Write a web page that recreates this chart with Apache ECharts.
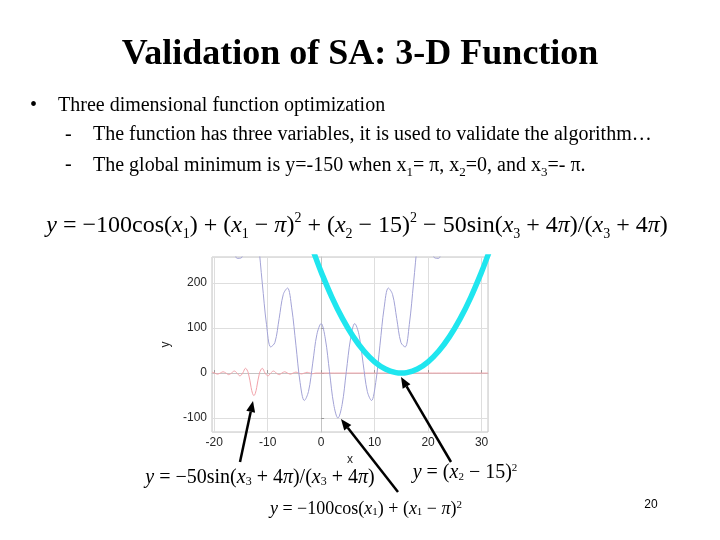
<!DOCTYPE html>
<html><head><meta charset="utf-8">
<script src="https://cdn.jsdelivr.net/npm/echarts@6/dist/echarts.min.js"></script>
<style>html,body{margin:0;padding:0;background:#fff}#c{width:720px;height:540px}</style>
</head><body><div id="c"></div>
<script>
// Blue curve: y = -100cos(x1) + (x1 - pi)^2
const blueX = [-20.42,-19.63,-18.85,-18.06,-17.28,-16.49,-15.71,-14.92,-14.14,-13.35,-12.57,-11.78,-11.00,-10.21,-9.42,-8.64,-7.85,-7.07,-6.28,-5.50,-4.71,-3.93,-3.14,-2.36,-1.57,-0.79,0,0.79,1.57,2.36,3.14,3.93,4.71,5.50,6.28,7.07,7.85,8.64,9.42,10.21,11.00,11.78,12.57,13.35,14.14,14.92,15.71,16.49,17.28,18.06,18.85,19.63,20.42,21.21,21.99,22.78,23.56,24.35];
const blueY = [555,590,584,520,417,315,255,256,299,343,347,293,200,108,58,68,121,175,189,145,62,-21,-61,-41,22,86,110,76,3,-70,-100,-70,3,76,110,86,22,-41,-61,-21,62,145,189,175,121,68,58,108,200,293,347,343,299,256,255,315,417,520];
// Red curve: y = -50 sin(x3 + 4pi)/(x3 + 4pi)
const redX = [-20.4,-19.90,-19.37,-18.85,-18.33,-17.80,-17.28,-16.76,-16.23,-15.71,-15.18,-14.66,-14.14,-13.61,-13.09,-12.83,-12.57,-12.30,-12.04,-11.52,-11.00,-10.47,-9.95,-9.42,-8.90,-8.38,-7.85,-7.33,-6.81,-6.28,-5.76,-5.24,-4.71,-4.19,-3.67,-3.14,-2.62,-2.09,-1.57,-1.05,0,10,20,31.2];
const redY = [2.1,0,-2.4,0,2.9,0,-3.5,0,4.5,0,-6.4,0,10.6,0,-31.8,-45,-50,-45,-31.8,0,10.6,0,-6.4,0,4.5,0,-3.5,0,2.9,0,-2.4,0,2.1,0,-1.9,0,1.7,0,-1.5,0,0,0,0,0];
// Cyan curve: y = (x2 - 15)^2
const cyanX = [-2,-1,0,2,4,6,8,10,12,14,15,16,18,20,22,24,26,28,30,31,32];
const cyanY = [289,256,225,169,121,81,49,25,9,1,0,1,9,25,49,81,121,169,225,256,289];

const pair = (xs, ys) => xs.map((x, i) => [x, ys[i]]);
const serif = 'Liberation Serif';
const mathRich = {
  i: {fontStyle: 'italic', fontFamily: serif, fontSize: 24, verticalAlign: 'middle'},
  n: {fontFamily: serif, fontSize: 24, verticalAlign: 'middle'},
  s: {fontStyle: 'normal', fontFamily: serif, fontSize: 14, verticalAlign: 'bottom'},
  p: {fontFamily: serif, fontSize: 14, verticalAlign: 'top'}
};
function scaledRich(f) {
  const r = {};
  for (const k in mathRich) { r[k] = Object.assign({}, mathRich[k], {fontSize: Math.round(mathRich[k].fontSize * f)}); }
  return r;
}

const chart = echarts.init(document.getElementById('c'), null, {renderer: 'canvas'});
const axisFont = {fontFamily: 'Liberation Sans', fontSize: 12, color: '#262626'};

function arrow(x1, y1, x2, y2) {
  const ang = Math.atan2(y2 - y1, x2 - x1), L = 11, W = 4.5;
  const bx = x2 - L * Math.cos(ang), by = y2 - L * Math.sin(ang);
  const px = -Math.sin(ang) * W, py = Math.cos(ang) * W;
  return [
    {type: 'line', shape: {x1: x1, y1: y1, x2: bx, y2: by}, style: {stroke: '#000', lineWidth: 2.5}, z: 50},
    {type: 'polygon', shape: {points: [[x2, y2], [bx + px, by + py], [bx - px, by - py]]}, style: {fill: '#000'}, z: 50}
  ];
}

const bodyFont = {fontFamily: serif, fontSize: 20, fill: '#000'};
const option = {
  backgroundColor: '#fff',
  animation: false,
  grid: {left: 212, top: 257, width: 276, height: 175, show: true, borderColor: '#c4c4c4', borderWidth: 1, containLabel: false},
  xAxis: {
    type: 'value', min: -20.4, max: 31.2,
    name: 'x', nameLocation: 'middle', nameGap: 22, nameTextStyle: axisFont,
    axisLine: {show: true, lineStyle: {color: '#c4c4c4'}},
    axisTick: {show: true, inside: true, length: 3, lineStyle: {color: '#999'}},
    axisLabel: Object.assign({margin: 5, showMinLabel: false, showMaxLabel: false}, axisFont),
    splitLine: {show: true, lineStyle: {color: '#dedede'}}
  },
  yAxis: {
    type: 'value', min: -131, max: 258,
    name: 'y', nameLocation: 'middle', nameGap: 40, nameRotate: 90, nameTextStyle: axisFont,
    axisLine: {show: true, lineStyle: {color: '#c4c4c4'}},
    axisTick: {show: true, inside: true, length: 3, lineStyle: {color: '#999'}},
    axisLabel: Object.assign({margin: 5, showMinLabel: false, showMaxLabel: false}, axisFont),
    splitLine: {show: true, lineStyle: {color: '#dedede'}}
  },
  series: [
    {type: 'line', data: pair(redX, redY), smooth: 0.35, showSymbol: false, lineStyle: {color: '#f2a3aa', width: 1}, z: 2},
    {type: 'line', data: pair(blueX, blueY), smooth: 0.35, showSymbol: false, lineStyle: {color: '#a3a3d6', width: 1}, z: 3},
    {type: 'line', data: pair(cyanX, cyanY), smooth: 0.4, showSymbol: false, lineStyle: {color: '#1fe6ef', width: 5.5}, z: 4}
  ],
  graphic: [
    {type: 'text', x: 360, y: 55, style: {text: 'Validation of SA: 3-D Function', fontFamily: serif, fontWeight: 'bold', fontSize: 36, fill: '#000', align: 'center', verticalAlign: 'middle'}},
    {type: 'text', x: 30, y: 106, style: Object.assign({text: '•', verticalAlign: 'middle'}, bodyFont)},
    {type: 'text', x: 58, y: 106, style: Object.assign({text: 'Three dimensional function optimization', verticalAlign: 'middle'}, bodyFont)},
    {type: 'text', x: 65, y: 135, style: Object.assign({text: '-', verticalAlign: 'middle'}, bodyFont)},
    {type: 'text', x: 93, y: 135, style: Object.assign({text: 'The function has three variables, it is used to validate the algorithm…', verticalAlign: 'middle'}, bodyFont)},
    {type: 'text', x: 65, y: 165, style: Object.assign({text: '-', verticalAlign: 'middle'}, bodyFont)},
    {type: 'text', x: 93, y: 166, style: {
      text: '{n|The global minimum is y=-150 when x}{s|1}{n|= π, x}{s|2}{n|=0, and x}{s|3}{n|=- π.}',
      rich: {n: {fontFamily: serif, fontSize: 20, verticalAlign: 'middle', lineHeight: 26}, s: {fontFamily: serif, fontSize: 13, verticalAlign: 'bottom', lineHeight: 26}},
      fill: '#000', verticalAlign: 'middle'}},
    {type: 'text', x: 357, y: 226, style: {
      text: '{i|y}{n| = −100cos(}{i|x}{s|1}{n|) + (}{i|x}{s|1}{n| − }{i|π}{n|)}{p|2}{n| + (}{i|x}{s|2}{n| − 15)}{p|2}{n| − 50sin(}{i|x}{s|3}{n| + 4}{i|π}{n|)/(}{i|x}{s|3}{n| + 4}{i|π}{n|)}',
      rich: mathRich, fill: '#000', align: 'center', verticalAlign: 'middle', lineHeight: 30}},
    {type: 'text', x: 260, y: 478, style: {
      text: '{i|y}{n| = −50sin(}{i|x}{s|3}{n| + 4}{i|π}{n|)/(}{i|x}{s|3}{n| + 4}{i|π}{n|)}',
      rich: scaledRich(0.83), fill: '#000', align: 'center', verticalAlign: 'middle'}},
    {type: 'text', x: 465, y: 473, style: {
      text: '{i|y}{n| = (}{i|x}{s|2}{n| − 15)}{p|2}',
      rich: scaledRich(0.82), fill: '#000', align: 'center', verticalAlign: 'middle'}},
    {type: 'text', x: 366, y: 509, style: {
      text: '{i|y}{n| = −100cos(}{i|x}{s|1}{n|) + (}{i|x}{s|1}{n| − }{i|π}{n|)}{p|2}',
      rich: scaledRich(0.76), fill: '#000', align: 'center', verticalAlign: 'middle'}},
    {type: 'text', x: 651, y: 505, style: {text: '20', fontFamily: 'Liberation Sans', fontSize: 12, fill: '#000', align: 'center', verticalAlign: 'middle'}}
  ].concat(arrow(240, 462, 253, 401), arrow(398, 492, 341, 419), arrow(451, 462, 401, 377))
};
chart.setOption(option);
</script>
</body></html>
